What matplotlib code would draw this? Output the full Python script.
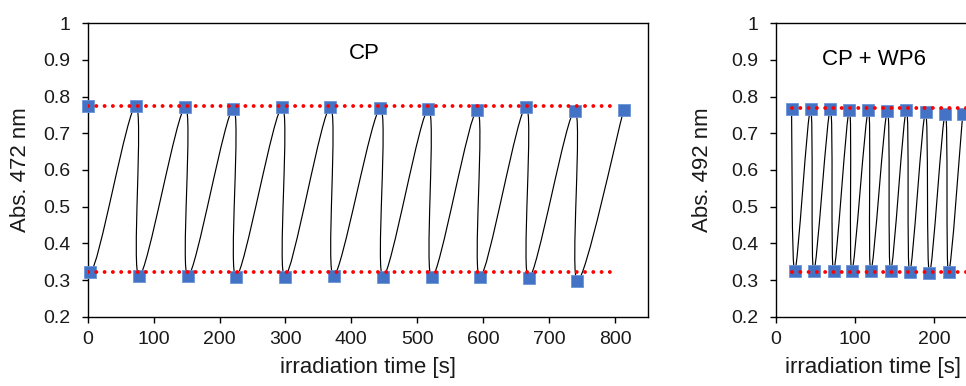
import numpy as np
import matplotlib
matplotlib.use('Agg')
import matplotlib.pyplot as plt
from matplotlib.path import Path
from matplotlib.patches import PathPatch

plt.rcParams['font.family'] = ['Liberation Sans', 'DejaVu Sans']

# ---------------- data ----------------
# Left panel: CP, absorbance at 472 nm
cp_high_t = [0, 73, 148, 221, 295, 368, 444, 517, 591, 665, 739, 813]
cp_high_abs = [0.775, 0.775, 0.771, 0.767, 0.771, 0.771, 0.768, 0.766, 0.764, 0.773, 0.762, 0.763]
cp_low_t = [4, 78, 152, 225, 299, 373, 448, 522, 595, 669, 743]
cp_low_abs = [0.322, 0.311, 0.311, 0.309, 0.309, 0.311, 0.309, 0.307, 0.307, 0.305, 0.298]
cp_ref_levels = [0.775, 0.323]
cp_ref_span = [0, 800]

# Right panel: CP + WP6, absorbance at 492 nm
wp_high_t = [20, 44, 69, 93, 117, 141, 165, 189, 214, 236]
wp_high_abs = [0.767, 0.766, 0.766, 0.764, 0.763, 0.762, 0.764, 0.757, 0.754, 0.754]
wp_low_t = [24, 48, 73, 96, 120, 145, 169, 194, 218]
wp_low_abs = [0.324, 0.324, 0.324, 0.324, 0.324, 0.325, 0.321, 0.319, 0.321]
wp_ref_levels = [0.770, 0.322]
wp_ref_span = [20, 250]

y_ticks = [0.2, 0.3, 0.4, 0.5, 0.6, 0.7, 0.8, 0.9, 1.0]
y_ticklabels = ['0.2', '0.3', '0.4', '0.5', '0.6', '0.7', '0.8', '0.9', '1']
cp_x_ticks = [0, 100, 200, 300, 400, 500, 600, 700, 800]
wp_x_ticks = [0, 100, 200]

BLUE = '#4472C4'


def interleave(ht, hv, lt, lv):
    t, v = [], []
    for i in range(len(ht)):
        t.append(ht[i]); v.append(hv[i])
        if i < len(lt):
            t.append(lt[i]); v.append(lv[i])
    return np.array(t, float), np.array(v, float)


def smooth_path(x, y):
    pts = np.column_stack([x, y])
    n = len(pts)
    verts = [pts[0]]
    codes = [Path.MOVETO]
    for i in range(n - 1):
        p0 = pts[i - 1] if i > 0 else pts[i]
        p1 = pts[i]
        p2 = pts[i + 1]
        p3 = pts[i + 2] if i + 2 < n else pts[i + 1]
        c1 = p1 + (p2 - p0) / 6.0
        c2 = p2 - (p3 - p1) / 6.0
        verts += [c1, c2, p2]
        codes += [Path.CURVE4] * 3
    return Path(verts, codes)


W, H = 966, 386
fig = plt.figure(figsize=(W / 100, H / 100), dpi=100)

ax_bottom = 1 - 316.7 / H
ax_height = (316.7 - 23.3) / H

ax1 = fig.add_axes([87.7 / W, ax_bottom, (648.0 - 87.7) / W, ax_height])
ax2 = fig.add_axes([775.7 / W, ax_bottom, (970.7 - 775.7) / W, ax_height])


def draw_panel(ax, ht, hv, lt, lv, levels, span, xlim, xticks, ylabel, title, title_xy,
               ylab_px, ax_left_px, ax_w_px):
    t, v = interleave(ht, hv, lt, lv)
    ax.add_patch(PathPatch(smooth_path(t, v), facecolor='none', edgecolor='black',
                           lw=0.85, zorder=2))
    ax.plot(t, v, linestyle='none', marker='s', ms=8.6, mfc=BLUE, mec='#6A93D8',
            mew=0.6, zorder=3, clip_on=False)
    for lvl in levels:
        ax.plot(span, [lvl, lvl], color='#FF0000', lw=2.8,
                linestyle=(0, (0.01, 2.12)), dash_capstyle='round', zorder=4)
    ax.set_xlim(*xlim)
    ax.set_ylim(0.2, 1.0)
    ax.set_yticks(y_ticks)
    ax.set_yticklabels(y_ticklabels)
    ax.set_xticks(xticks)
    ax.set_xticklabels([str(x) for x in xticks])
    for s in ax.spines.values():
        s.set_linewidth(1.0)
        s.set_color('black')
    ax.tick_params(axis='both', direction='out', length=4.3, width=1.0, labelsize=14,
                   colors='black', labelcolor='#1a1a1a')
    ax.tick_params(axis='x', pad=6)
    ax.tick_params(axis='y', pad=8)
    ax.set_ylabel(ylabel, fontsize=16, color='#1a1a1a')
    ax.yaxis.set_label_coords(-(ax_left_px - ylab_px) / ax_w_px, 0.5)
    ax.set_xlabel('irradiation time [s]', fontsize=16, color='#1a1a1a')
    ax.xaxis.set_label_coords(0.5, -(357.0 - 316.7) / 293.4)
    ax.text(title_xy[0], title_xy[1], title, fontsize=16, ha='center', va='baseline',
            color='black')


draw_panel(ax1, cp_high_t, cp_high_abs, cp_low_t, cp_low_abs, cp_ref_levels, cp_ref_span,
           (0, 850), cp_x_ticks, 'Abs. 472 nm', 'CP', (419, 0.902),
           31.0, 87.7, 648.0 - 87.7)
draw_panel(ax2, wp_high_t, wp_high_abs, wp_low_t, wp_low_abs, wp_ref_levels, wp_ref_span,
           (0, 246), wp_x_ticks, 'Abs. 492 nm', 'CP + WP6', (124.6, 0.886),
           712.5, 775.7, 970.7 - 775.7)

fig.savefig('out.png', dpi=100)
